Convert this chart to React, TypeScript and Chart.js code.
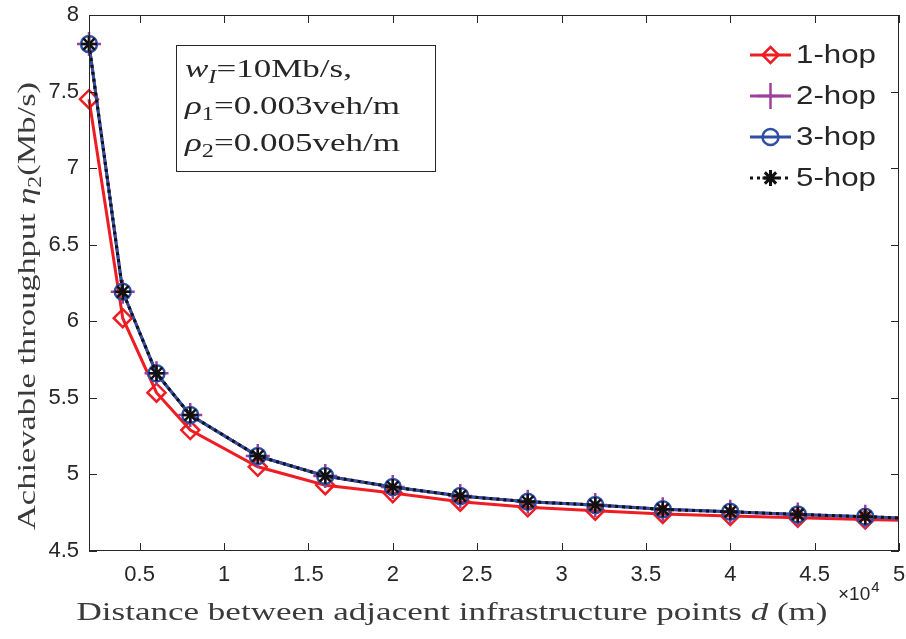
import React, { useEffect, useRef } from "react";
import { Chart, registerables } from "chart.js";

Chart.register(...registerables);

// ---------- data ----------
const distances = [0.2, 0.4, 0.6, 0.8, 1.2, 1.6, 2.0, 2.4, 2.8, 3.2, 3.6, 4.0, 4.4, 4.8, 5.0];
const hop1 = [7.45, 6.02, 5.534, 5.29, 5.05, 4.93, 4.878, 4.822, 4.785, 4.763, 4.742, 4.728, 4.717, 4.706, 4.7];
const hop2 = [7.81, 6.193, 5.66, 5.388, 5.12, 4.99, 4.918, 4.859, 4.822, 4.8, 4.772, 4.756, 4.739, 4.724, 4.716];
const hop3 = [7.81, 6.193, 5.66, 5.388, 5.12, 4.99, 4.918, 4.859, 4.822, 4.8, 4.772, 4.756, 4.739, 4.724, 4.716];
const hop5 = [7.81, 6.193, 5.66, 5.388, 5.12, 4.99, 4.918, 4.859, 4.822, 4.8, 4.772, 4.756, 4.739, 4.724, 4.716];
const seriesLabels = ["1-hop", "2-hop", "3-hop", "5-hop"];
const xTickValues = [0.5, 1, 1.5, 2, 2.5, 3, 3.5, 4, 4.5, 5];
const yTickValues = [4.5, 5, 5.5, 6, 6.5, 7, 7.5, 8];
const xMin = 0.2;
const xMax = 5;
const yMin = 4.5;
const yMax = 8;

// ---------- styles ----------
const RED = "#EE1D23";
const PURPLE = "#9E3F9E";
const BLUE = "#2E4FA3";
const BLACK = "#111111";
const AXIS = "#262626";
const LABEL = "#3a3a3a";
const SERIF = "'Liberation Serif', 'Times New Roman', serif";
const SANS = "'Liberation Sans', Arial, Helvetica, sans-serif";

type Seg = { t: string; it?: boolean; sub?: boolean };

function richWidth(ctx: CanvasRenderingContext2D, segs: Seg[], size: number) {
  let w = 0;
  for (const s of segs) {
    ctx.font = `${s.it ? "italic " : ""}${s.sub ? Math.round(size * 0.7) : size}px ${SERIF}`;
    w += ctx.measureText(s.t).width;
  }
  return w;
}

function drawRich(
  ctx: CanvasRenderingContext2D,
  segs: Seg[],
  x: number,
  y: number,
  size: number,
  sx: number,
  align: "left" | "center"
) {
  const w = richWidth(ctx, segs, size);
  ctx.save();
  ctx.translate(x, y);
  ctx.scale(sx, 1);
  ctx.textAlign = "left";
  ctx.textBaseline = "alphabetic";
  let cx = align === "center" ? -w / 2 : 0;
  for (const s of segs) {
    ctx.font = `${s.it ? "italic " : ""}${s.sub ? Math.round(size * 0.7) : size}px ${SERIF}`;
    ctx.fillText(s.t, cx, s.sub ? size * 0.22 : 0);
    cx += ctx.measureText(s.t).width;
  }
  ctx.restore();
}

function drawMarker(ctx: CanvasRenderingContext2D, kind: string, cx: number, cy: number, r: number) {
  ctx.beginPath();
  if (kind === "diamond") {
    ctx.moveTo(cx, cy - r);
    ctx.lineTo(cx + r, cy);
    ctx.lineTo(cx, cy + r);
    ctx.lineTo(cx - r, cy);
    ctx.closePath();
  } else if (kind === "plus") {
    ctx.moveTo(cx - r, cy);
    ctx.lineTo(cx + r, cy);
    ctx.moveTo(cx, cy - r);
    ctx.lineTo(cx, cy + r);
  } else if (kind === "circle") {
    ctx.arc(cx, cy, r, 0, Math.PI * 2);
  } else if (kind === "star") {
    const d = r * Math.SQRT1_2;
    ctx.moveTo(cx - r, cy);
    ctx.lineTo(cx + r, cy);
    ctx.moveTo(cx, cy - r);
    ctx.lineTo(cx, cy + r);
    ctx.moveTo(cx - d, cy - d);
    ctx.lineTo(cx + d, cy + d);
    ctx.moveTo(cx - d, cy + d);
    ctx.lineTo(cx + d, cy - d);
  }
  ctx.stroke();
}

const decorPlugin = {
  id: "decor",
  afterDraw(chart: any) {
    const ctx: CanvasRenderingContext2D = chart.ctx;
    const a = chart.chartArea;
    const xs = chart.scales.x;
    const ys = chart.scales.y;
    ctx.save();

    // axes box
    ctx.strokeStyle = AXIS;
    ctx.lineWidth = 1;
    ctx.setLineDash([]);
    ctx.strokeRect(a.left + 0.5, a.top + 0.5, a.right - a.left - 1, a.bottom - a.top - 1);

    // inward ticks on all four sides
    const tl = 8;
    ctx.beginPath();
    for (const v of xTickValues) {
      const px = Math.round(xs.getPixelForValue(v)) + 0.5;
      ctx.moveTo(px, a.bottom);
      ctx.lineTo(px, a.bottom - tl);
      ctx.moveTo(px, a.top);
      ctx.lineTo(px, a.top + tl);
    }
    for (const v of yTickValues) {
      const py = Math.round(ys.getPixelForValue(v)) + 0.5;
      ctx.moveTo(a.left, py);
      ctx.lineTo(a.left + tl, py);
      ctx.moveTo(a.right, py);
      ctx.lineTo(a.right - tl, py);
    }
    ctx.stroke();

    // annotation text box
    ctx.fillStyle = "#ffffff";
    ctx.fillRect(176.5, 45.5, 259, 126);
    ctx.strokeStyle = AXIS;
    ctx.strokeRect(176.5, 45.5, 259, 126);
    const boxLines: Seg[][] = [
      [{ t: "w", it: true }, { t: "I", it: true, sub: true }, { t: "=10Mb/s," }],
      [{ t: "ρ", it: true }, { t: "1", sub: true }, { t: "=0.003veh/m" }],
      [{ t: "ρ", it: true }, { t: "2", sub: true }, { t: "=0.005veh/m" }],
    ];
    const boxSize = 26;
    const boxSx = 215 / richWidth(ctx, boxLines[1], boxSize);
    ctx.fillStyle = AXIS;
    const baselines = [77, 114, 151];
    boxLines.forEach((segs, i) => drawRich(ctx, segs, 185, baselines[i], boxSize, boxSx, "left"));

    // x axis label
    ctx.fillStyle = LABEL;
    const xl: Seg[] = [
      { t: "Distance between adjacent infrastructure points " },
      { t: "d", it: true },
      { t: " (m)" },
    ];
    const xlSize = 25;
    drawRich(ctx, xl, 452, 620, xlSize, 751 / richWidth(ctx, xl, xlSize), "center");

    // x10^4 exponent
    ctx.fillStyle = AXIS;
    ctx.textAlign = "left";
    ctx.textBaseline = "alphabetic";
    ctx.font = `19px ${SANS}`;
    ctx.fillText("×10", 838, 600);
    const w10 = ctx.measureText("×10").width;
    ctx.font = `15px ${SANS}`;
    ctx.fillText("4", 838 + w10 + 1, 592);

    // y axis label
    ctx.fillStyle = LABEL;
    const yl: Seg[] = [
      { t: "Achievable throughput " },
      { t: "η", it: true },
      { t: "2", sub: true },
      { t: "(Mb/s)" },
    ];
    const ylSize = 26;
    ctx.save();
    ctx.translate(35, 306);
    ctx.rotate(-Math.PI / 2);
    drawRich(ctx, yl, 0, 0, ylSize, 448 / richWidth(ctx, yl, ylSize), "center");
    ctx.restore();

    // legend
    const rows = [
      { color: RED, marker: "diamond", r: 8, dash: [] as number[], lw: 2.5 },
      { color: PURPLE, marker: "plus", r: 13, dash: [] as number[], lw: 2.5 },
      { color: BLUE, marker: "circle", r: 8, dash: [] as number[], lw: 2.5 },
      { color: BLACK, marker: "star", r: 8, dash: [3, 4], lw: 3 },
    ];
    const rowY = [55, 96, 137, 178];
    rows.forEach((row, i) => {
      const cy = rowY[i];
      ctx.strokeStyle = row.color;
      ctx.lineWidth = 3;
      ctx.setLineDash(row.dash);
      ctx.beginPath();
      ctx.moveTo(750, cy);
      ctx.lineTo(791, cy);
      ctx.stroke();
      ctx.setLineDash([]);
      ctx.lineWidth = row.lw;
      drawMarker(ctx, row.marker, 770.5, cy, row.r);
      ctx.fillStyle = AXIS;
      ctx.font = `26px ${SANS}`;
      ctx.textBaseline = "middle";
      ctx.textAlign = "left";
      const tw = ctx.measureText(seriesLabels[i]).width;
      ctx.save();
      ctx.translate(796, cy + 1);
      ctx.scale(80 / tw, 1);
      ctx.fillText(seriesLabels[i], 0, 0);
      ctx.restore();
    });

    ctx.restore();
  },
};

function pts(values: number[]) {
  return distances.map((d, i) => ({ x: d, y: values[i] }));
}

function radii(r: number) {
  // the final sample at d = 5 carries no marker in the reference
  return distances.map((_, i) => (i === distances.length - 1 ? 0 : r));
}

export default function App() {
  const canvasRef = useRef<HTMLCanvasElement | null>(null);

  useEffect(() => {
    const canvas = canvasRef.current;
    if (!canvas) return;
    const chart = new Chart(canvas, {
      type: "line",
      data: {
        datasets: [
          {
            label: seriesLabels[0],
            data: pts(hop1),
            borderColor: RED,
            borderWidth: 3,
            pointStyle: "rectRot",
            pointRadius: radii(9),
            pointBorderColor: RED,
            pointBackgroundColor: "rgba(0,0,0,0)",
            pointBorderWidth: 2.5,
            tension: 0,
            clip: false as any,
            order: 4,
          },
          {
            label: seriesLabels[1],
            data: pts(hop2),
            borderColor: PURPLE,
            borderWidth: 3,
            pointStyle: "cross",
            pointRadius: radii(12),
            pointBorderColor: PURPLE,
            pointBackgroundColor: "rgba(0,0,0,0)",
            pointBorderWidth: 2.5,
            tension: 0,
            clip: false as any,
            order: 3,
          },
          {
            label: seriesLabels[2],
            data: pts(hop3),
            borderColor: BLUE,
            borderWidth: 3,
            pointStyle: "circle",
            pointRadius: radii(8),
            pointBorderColor: BLUE,
            pointBackgroundColor: "rgba(0,0,0,0)",
            pointBorderWidth: 2.5,
            tension: 0,
            clip: false as any,
            order: 2,
          },
          {
            label: seriesLabels[3],
            data: pts(hop5),
            borderColor: BLACK,
            borderWidth: 3,
            borderDash: [3, 4],
            pointStyle: "star",
            pointRadius: radii(8),
            pointBorderColor: BLACK,
            pointBackgroundColor: BLACK,
            pointBorderWidth: 2.5,
            tension: 0,
            clip: false as any,
            order: 1,
          },
        ],
      },
      options: {
        responsive: false,
        animation: false,
        devicePixelRatio: 1,
        layout: { autoPadding: false, padding: { top: 15, right: 7, left: 0, bottom: 0 } },
        plugins: {
          legend: { display: false },
          tooltip: { enabled: false },
        },
        scales: {
          x: {
            type: "linear",
            min: xMin,
            max: xMax,
            grid: { display: false, drawTicks: false },
            border: { display: false },
            ticks: {
              padding: 11,
              autoSkip: false,
              maxRotation: 0,
              color: AXIS,
              font: { family: SANS, size: 22 },
              callback: (v: any) => String(v),
            },
            afterBuildTicks: (s: any) => {
              s.ticks = xTickValues.map((v) => ({ value: v }));
            },
            afterFit: (s: any) => {
              s.height = 88;
              s.paddingLeft = 0;
              s.paddingRight = 0;
            },
          },
          y: {
            type: "linear",
            min: yMin,
            max: yMax,
            grid: { display: false, drawTicks: false },
            border: { display: false },
            ticks: {
              padding: 10,
              autoSkip: false,
              color: AXIS,
              font: { family: SANS, size: 22 },
              callback: (v: any) => String(v),
            },
            afterBuildTicks: (s: any) => {
              s.ticks = yTickValues.map((v) => ({ value: v }));
            },
            afterFit: (s: any) => {
              s.width = 89;
              s.paddingTop = 0;
              s.paddingBottom = 0;
            },
          },
        },
      },
      plugins: [decorPlugin],
    });
    return () => chart.destroy();
  }, []);

  return (
    <div style={{ position: "fixed", left: 0, top: 0, width: 906, height: 639, background: "#fff" }}>
      <canvas ref={canvasRef} width={906} height={639} style={{ display: "block" }} />
    </div>
  );
}
